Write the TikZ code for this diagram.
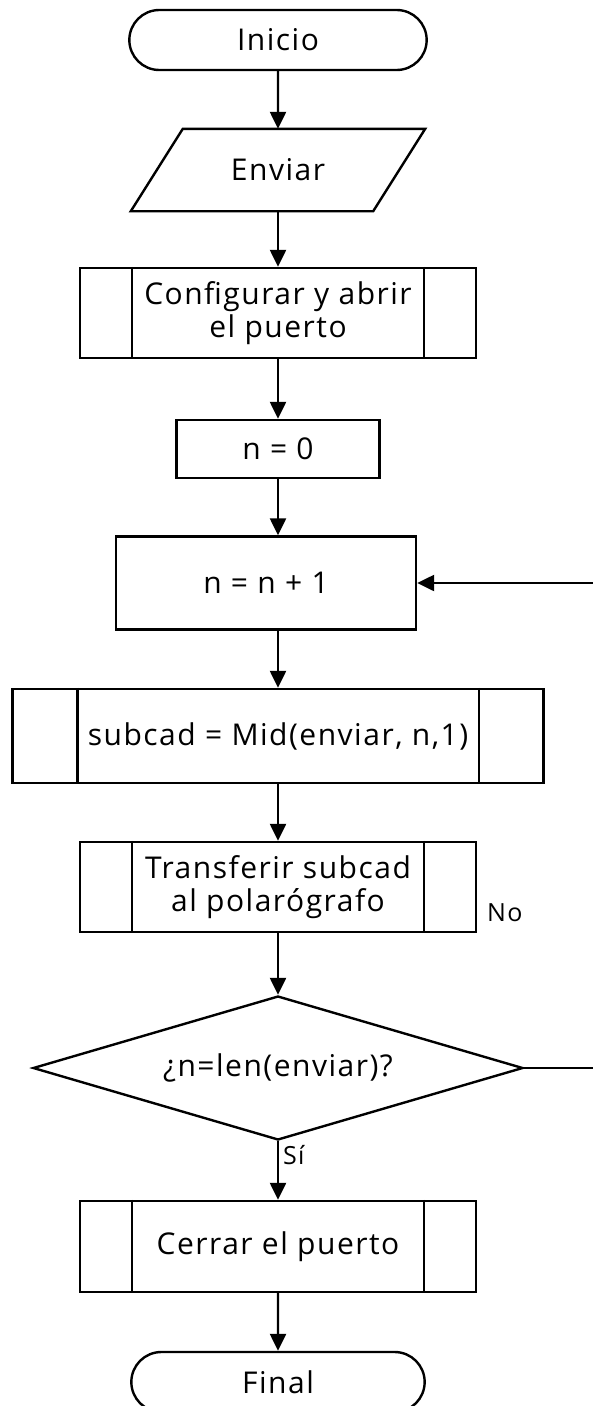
\documentclass[tikz,border=0pt]{standalone}
\usepackage{fontspec}
\setmainfont[LetterSpace=5]{Open Sans}
\usetikzlibrary{positioning,shapes.geometric,shapes.misc,arrows.meta}

\begin{document}
\begin{tikzpicture}[x=1pt,y=1pt,line width=2.4pt,
  font=\fontsize{30}{33}\selectfont,
  >={Triangle[length=17pt,width=16pt]},
  term/.style={draw,rounded rectangle,minimum width=304pt,minimum height=60pt},
  proc/.style={draw,rectangle,align=center},
  subproc/.style={draw,rectangle,align=center,minimum width=396pt,minimum height=90pt},
  decision/.style={draw,diamond,aspect=3.4,inner sep=0pt,minimum width=490pt,minimum height=144pt},
  lbl/.style={font=\fontsize{25}{28}\selectfont,inner sep=0pt,anchor=west}]
\useasboundingbox (0,0) rectangle (592,-1406);
% column of steps
\node[term] (inicio) at (278,-40) {Inicio};
\node[minimum width=240pt,minimum height=80pt] (enviar) at (278,-170) {Enviar};
\draw ([xshift=-26pt]enviar.south west) -- ([xshift=-26pt]enviar.south east)
  -- ([xshift=26pt]enviar.north east) -- ([xshift=26pt]enviar.north west) -- cycle;
\node[subproc] (conf) at (278,-313) {Configurar y abrir\\el puerto};
\node[proc,minimum width=203pt,minimum height=58pt] (ncero) at (278,-449) {n = 0};
\node[proc,minimum width=300pt,minimum height=93pt] (nmas) at (266,-583) {n = n + 1};
\node[subproc,minimum width=531pt,minimum height=94pt] (subcad) at (278,-736) {subcad = Mid(enviar, n,1)};
\node[subproc] (transf) at (278,-887) {Transferir subcad\\al polarógrafo};
\node[decision] (dec) at (278,-1068) {¿n=len(enviar)?};
\node[subproc,minimum height=91pt] (cerrar) at (278,-1246.5) {Cerrar el puerto};
\node[term,minimum width=300pt] (final) at (278,-1382) {Final};
% side bars of the subprocess boxes
\foreach \b/\o in {conf/53,subcad/66,transf/53,cerrar/53} {
  \draw ([xshift=\o pt]\b.north west) -- ([xshift=\o pt]\b.south west);
  \draw ([xshift=-\o pt]\b.north east) -- ([xshift=-\o pt]\b.south east);
}
% labels
\node[lbl] (no) at (486,-913) {No};
\node[lbl] (si) at (282,-1155) {Sí};
% connectors
\draw[->] (inicio) -- (enviar);
\draw[->] (enviar) -- (conf);
\draw[->] (conf) -- (ncero);
\draw[->] (ncero.south) -- (ncero.south |- nmas.north);
\draw[->] (subcad.north |- nmas.south) -- (subcad.north);
\draw[->] (subcad) -- (transf);
\draw[->] (transf) -- (dec);
\draw[->] (dec) -- (cerrar);
\draw[->] (cerrar) -- (final);
\coordinate (vuelta) at (604,-1068);
\draw[->] (dec.east) -- (vuelta) |- (nmas.east);
\end{tikzpicture}
\end{document}
